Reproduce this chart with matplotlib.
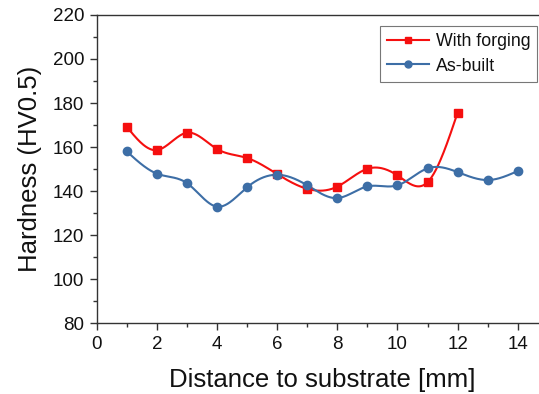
import numpy as np
import matplotlib
matplotlib.use("Agg")
import matplotlib.pyplot as plt
from matplotlib.ticker import MultipleLocator

plt.rcParams['font.family'] = ['Liberation Sans', 'DejaVu Sans']

# Hardness profiles along the build direction
dist_forged = [1, 2, 3, 4, 5, 6, 7, 8, 9, 10, 11, 12]
hv_forged = [169.2, 158.6, 166.5, 159.1, 155.0, 147.7, 141.0, 142.0, 150.1, 147.1, 144.0, 175.6]

dist_built = [1, 2, 3, 4, 5, 6, 7, 8, 9, 10, 11, 12, 13, 14]
hv_built = [158.0, 147.9, 143.6, 132.9, 141.7, 147.4, 142.6, 136.8, 142.1, 142.6, 150.3, 148.6, 145.0, 149.1]

labels = ["With forging", "As-built"]


def natural_spline(x, y, n=40):
    """Natural cubic spline through (x, y), sampled densely for a smooth line."""
    x = np.asarray(x, float)
    y = np.asarray(y, float)
    k = len(x)
    h = np.diff(x)
    A = np.zeros((k, k))
    b = np.zeros(k)
    A[0, 0] = A[-1, -1] = 1.0
    for i in range(1, k - 1):
        A[i, i - 1] = h[i - 1]
        A[i, i] = 2 * (h[i - 1] + h[i])
        A[i, i + 1] = h[i]
        b[i] = 3 * ((y[i + 1] - y[i]) / h[i] - (y[i] - y[i - 1]) / h[i - 1])
    c = np.linalg.solve(A, b)
    xs, ys = [], []
    for i in range(k - 1):
        t = np.linspace(0, h[i], n, endpoint=(i == k - 2))
        bi = (y[i + 1] - y[i]) / h[i] - h[i] * (2 * c[i] + c[i + 1]) / 3
        di = (c[i + 1] - c[i]) / (3 * h[i])
        xs.append(x[i] + t)
        ys.append(y[i] + bi * t + c[i] * t ** 2 + di * t ** 3)
    return np.concatenate(xs), np.concatenate(ys)


red = "#f50f0f"
blue = "#3d6ea6"

fig = plt.figure(figsize=(5.39, 3.94), dpi=100)
ax = fig.add_axes([0.1794, 0.180, 0.837, 0.782])

for xs_, ys_, col, mk, ms, lab in [
    (dist_forged, hv_forged, red, "s", 5.5, labels[0]),
    (dist_built, hv_built, blue, "o", 6, labels[1]),
]:
    sx, sy = natural_spline(xs_, ys_)
    ax.plot(sx, sy, color=col, lw=1.5, zorder=2)
    ax.plot(xs_, ys_, ls="none", marker=mk, ms=ms, color=col, zorder=3)
    ax.plot([], [], color=col, lw=1.5, marker=mk, ms=5, label=lab)

ax.set_xlim(0, 15)
ax.set_ylim(80, 220)
ax.xaxis.set_major_locator(MultipleLocator(2))
ax.xaxis.set_minor_locator(MultipleLocator(1))
ax.yaxis.set_major_locator(MultipleLocator(20))
ax.yaxis.set_minor_locator(MultipleLocator(10))

ax.tick_params(which="major", direction="out", length=5, width=1, labelsize=13.5,
               colors="#333333", labelcolor="#111111")
ax.tick_params(which="minor", direction="out", length=3, width=1, colors="#333333")
ax.tick_params(axis="x", pad=4)
ax.tick_params(axis="y", pad=4)

for s in ["left", "bottom", "top"]:
    ax.spines[s].set_color("#333333")
    ax.spines[s].set_linewidth(1.0)
ax.spines["right"].set_visible(False)

ax.set_xlabel("Distance to substrate [mm]", fontsize=18.5, labelpad=11, color="#111111")
ax.set_ylabel("Hardness (HV0.5)", fontsize=18.5, labelpad=8, color="#111111")

leg = ax.legend(loc="upper left", bbox_to_anchor=(0.627, 0.963), fontsize=12.8,
                frameon=True, fancybox=False, handlelength=2.4, handletextpad=0.35,
                borderpad=0.4, labelspacing=0.4, borderaxespad=0)
leg.get_frame().set_edgecolor("#555555")
leg.get_frame().set_linewidth(0.8)
for t in leg.get_texts():
    t.set_color("#111111")

fig.savefig("out.png", dpi=100)
